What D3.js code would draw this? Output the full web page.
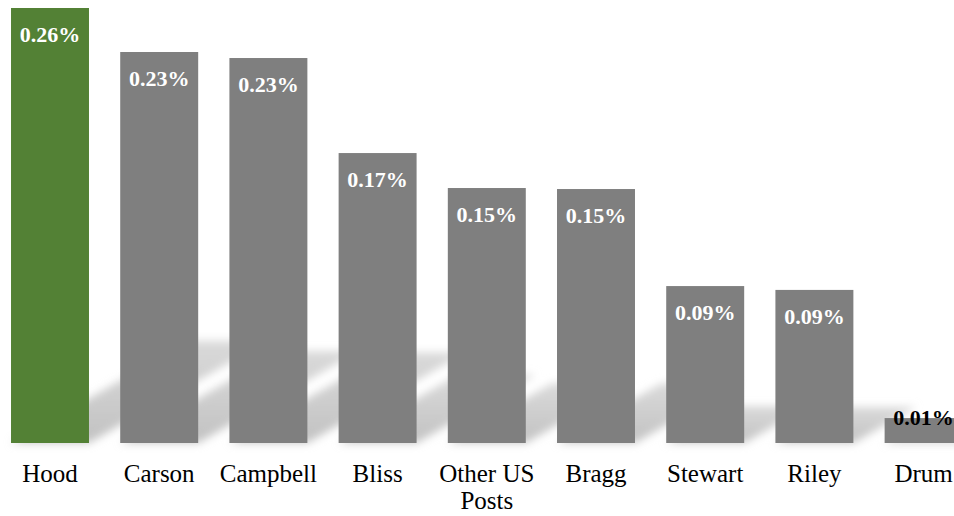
<!DOCTYPE html>
<html>
<head>
<meta charset="utf-8">
<script src="https://cdn.jsdelivr.net/npm/d3@7"></script>
<style>
  html, body { margin: 0; padding: 0; background: #ffffff; }
  svg { display: block; }
  svg text { font-family: "Liberation Serif", "DejaVu Serif", serif; }
</style>
</head>
<body>
<svg id="chart" width="954" height="516"></svg>
<script>
// ---- data ----
const categories = ["Hood", "Carson", "Campbell", "Bliss", "Other US Posts", "Bragg", "Stewart", "Riley", "Drum"];
const values = [0.26, 0.2337, 0.2301, 0.1733, 0.1524, 0.1518, 0.0938, 0.0915, 0.0149]; // percent
const highlight = ["Hood"];

// ---- layout ----
const W = 954, H = 516;
const baseY = 443, topY = 8;
const svg = d3.select("#chart");
const serif = "\"Liberation Serif\", \"DejaVu Serif\", serif";

const x = d3.scaleBand()
  .domain(categories)
  .range([-4.6, 978.2])
  .paddingInner(0.286)
  .paddingOuter(0.143);

const y = d3.scaleLinear()
  .domain([0, 0.26])
  .range([baseY, topY]);

const fmt = d => d3.format(".2f")(d) + "%";

// shadow filter + gradient
const defs = svg.append("defs");
defs.append("filter").attr("id", "blur")
  .attr("x", "-20%").attr("y", "-50%").attr("width", "140%").attr("height", "200%")
  .append("feGaussianBlur").attr("stdDeviation", 4);
const grad = defs.append("linearGradient").attr("id", "shgrad")
  .attr("x1", 0).attr("y1", 1).attr("x2", 0).attr("y2", 0);
grad.append("stop").attr("offset", 0).attr("stop-color", "#c2c2c2");
grad.append("stop").attr("offset", 1).attr("stop-color", "#dadada");

const data = categories.map((c, i) => ({ cat: c, val: values[i] }));

// perspective shadows (vertical scale ~23%, skewed up-right)
const shadowScale = 0.235, skew = 1.75;
svg.append("g").attr("filter", "url(#blur)")
  .selectAll("path").data(data).join("path")
  .attr("d", d => {
    const x0 = x(d.cat), x1 = x0 + x.bandwidth();
    const hs = (baseY - y(d.val)) * shadowScale;
    const s = hs * skew;
    return `M${x0},${baseY}L${x1},${baseY}L${x1 + s},${baseY - hs}L${x0 + s},${baseY - hs}Z`;
  })
  .attr("fill", "url(#shgrad)");

// bars
svg.append("g").selectAll("rect").data(data).join("rect")
  .attr("x", d => x(d.cat))
  .attr("y", d => y(d.val))
  .attr("width", x.bandwidth())
  .attr("height", d => baseY - y(d.val))
  .attr("fill", d => highlight.includes(d.cat) ? "#538135" : "#7f7f7f");

// value labels
svg.append("g").selectAll("text").data(data).join("text")
  .attr("x", d => x(d.cat) + x.bandwidth() / 2)
  .attr("y", d => (baseY - y(d.val)) > 45 ? y(d.val) + 34 : y(d.val) + 7)
  .attr("text-anchor", "middle")
  .style("font-family", serif)
  .style("font-weight", "bold")
  .style("font-size", "22px")
  .attr("fill", d => (baseY - y(d.val)) > 45 ? "#ffffff" : "#000000")
  .text(d => fmt(d.val));

// x axis
const xAxis = svg.append("g")
  .attr("transform", `translate(0,${baseY})`)
  .call(d3.axisBottom(x).tickSize(0).tickPadding(0));
xAxis.attr("font-family", null).attr("font-size", null);
xAxis.select(".domain").remove();
xAxis.selectAll(".tick text")
  .style("font-family", serif)
  .style("font-size", "25px")
  .attr("fill", "#000")
  .attr("dy", null)
  .attr("y", 39)
  .each(function(d) {
    const t = d3.select(this);
    const words = d.split(" ");
    const maxW = x.step() - 6;
    t.text(null);
    let line = [], lineNo = 0;
    let tspan = t.append("tspan").attr("x", 0).attr("y", 39);
    words.forEach(w => {
      line.push(w);
      tspan.text(line.join(" "));
      if (tspan.node().getComputedTextLength() > maxW && line.length > 1) {
        line.pop();
        tspan.text(line.join(" "));
        line = [w];
        lineNo++;
        tspan = t.append("tspan").attr("x", 0).attr("y", 39 + lineNo * 27).text(w);
      }
    });
  });
</script>
</body>
</html>
